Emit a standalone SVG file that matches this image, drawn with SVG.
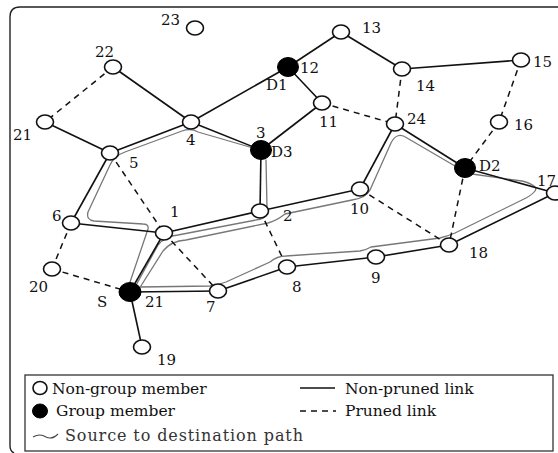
<svg xmlns="http://www.w3.org/2000/svg" width="558" height="453" viewBox="0 0 558 453">
<style>
.e{stroke:#111;stroke-width:1.6;fill:none}
.d{stroke:#111;stroke-width:1.5;fill:none;stroke-dasharray:6,5}
.g{stroke:#777;stroke-width:1.3;fill:none;stroke-linejoin:round;stroke-linecap:round}
.n{fill:#fff;stroke:#111;stroke-width:1.6}
.m{fill:#000;stroke:#000;stroke-width:1}
text{font-family:"DejaVu Serif","Liberation Serif",serif;font-size:15px;fill:#111}
.lg{font-size:15.5px}
.sm{font-size:16px;fill:#333}
</style>
<rect width="558" height="453" fill="#fff"/>
<path d="M14,453 Q10,451 10,446 L10,17 Q10,7 20,7 L558,7" fill="none" stroke="#222" stroke-width="1.4"/>
<g id="paths">
<path class="g" d="M128,288 L148,229 Q149,224 143,224 L94,221 Q86,220 88,212 L110,165 Q114,156 125,152 L182,131 Q191,128 198,132 L253,148"/>
<path class="g" d="M134,289 L158,245 Q165,236 178,235 L261,219 Q268,217 267,208 L266,160"/>
<path class="g" d="M139,289 L163,251 Q171,241 186,240 L268,223 Q276,221 285,214 L352,200 Q366,198 370,190 L391,143 Q397,131 407,138 L455,166"/>
<path class="g" d="M140,287 L210,286 Q218,285 226,282 L270,262 Q277,256 286,256 L360,251 Q366,250 371,247 L440,238 Q448,236 455,233 L526,198 Q540,190 534,186 Q530,183 522,181 L472,174"/>
</g>
<g id="connectors">
<line class="e" x1="113" y1="67" x2="191" y2="122"/>
<line class="e" x1="45" y1="122" x2="110" y2="153"/>
<line class="e" x1="110" y1="153" x2="191" y2="122"/>
<line class="e" x1="191" y1="122" x2="261" y2="150"/>
<line class="e" x1="191" y1="122" x2="288" y2="67"/>
<line class="e" x1="288" y1="67" x2="341" y2="32"/>
<line class="e" x1="341" y1="32" x2="402" y2="69"/>
<line class="e" x1="402" y1="69" x2="521" y2="60"/>
<line class="e" x1="288" y1="67" x2="322" y2="103"/>
<line class="e" x1="322" y1="103" x2="261" y2="150"/>
<line class="e" x1="261" y1="150" x2="260" y2="211"/>
<line class="e" x1="260" y1="211" x2="360" y2="189"/>
<line class="e" x1="360" y1="189" x2="395" y2="124"/>
<line class="e" x1="395" y1="124" x2="465" y2="168"/>
<line class="e" x1="465" y1="168" x2="555" y2="193"/>
<line class="e" x1="555" y1="193" x2="449" y2="245"/>
<line class="e" x1="449" y1="245" x2="376" y2="257"/>
<line class="e" x1="376" y1="257" x2="287" y2="267"/>
<line class="e" x1="287" y1="267" x2="218" y2="291"/>
<line class="e" x1="218" y1="291" x2="130" y2="292"/>
<line class="e" x1="130" y1="292" x2="164" y2="233"/>
<line class="e" x1="130" y1="292" x2="142" y2="347"/>
<line class="e" x1="164" y1="233" x2="260" y2="211"/>
<line class="e" x1="71" y1="223" x2="164" y2="233"/>
<line class="e" x1="110" y1="153" x2="71" y2="223"/>
<line class="d" x1="113" y1="67" x2="45" y2="122"/>
<line class="d" x1="110" y1="153" x2="164" y2="233"/>
<line class="d" x1="164" y1="233" x2="218" y2="291"/>
<line class="d" x1="322" y1="103" x2="395" y2="124"/>
<line class="d" x1="402" y1="69" x2="395" y2="124"/>
<line class="d" x1="521" y1="60" x2="499" y2="122"/>
<line class="d" x1="499" y1="122" x2="465" y2="168"/>
<line class="d" x1="465" y1="168" x2="449" y2="245"/>
<line class="d" x1="360" y1="189" x2="449" y2="245"/>
<line class="d" x1="260" y1="211" x2="287" y2="267"/>
<line class="d" x1="71" y1="223" x2="52" y2="269"/>
<line class="d" x1="52" y1="269" x2="130" y2="292"/>
</g>
<g id="n1"><ellipse class="n" cx="164" cy="233" rx="8.5" ry="7"/><text x="170" y="217">1</text></g>
<g id="n2"><ellipse class="n" cx="260" cy="211" rx="8.5" ry="7"/><text x="283" y="221">2</text></g>
<g id="n3"><ellipse class="m" cx="261" cy="150" rx="10.5" ry="9.5"/><text x="256" y="138">3</text><text x="271" y="157">D3</text></g>
<g id="n4"><ellipse class="n" cx="191" cy="122" rx="8.5" ry="7"/><text x="186" y="145">4</text></g>
<g id="n5"><ellipse class="n" cx="110" cy="153" rx="8.5" ry="7"/><text x="129" y="168">5</text></g>
<g id="n6"><ellipse class="n" cx="71" cy="223" rx="8.5" ry="7"/><text x="52" y="221">6</text></g>
<g id="n7"><ellipse class="n" cx="218" cy="291" rx="8.5" ry="7"/><text x="206" y="312">7</text></g>
<g id="n8"><ellipse class="n" cx="287" cy="267" rx="8.5" ry="7"/><text x="292" y="292">8</text></g>
<g id="n9"><ellipse class="n" cx="376" cy="257" rx="8.5" ry="7"/><text x="371" y="283">9</text></g>
<g id="n10"><ellipse class="n" cx="360" cy="189" rx="8.5" ry="7"/><text x="350" y="214">10</text></g>
<g id="n11"><ellipse class="n" cx="322" cy="103" rx="8.5" ry="7"/><text x="319" y="127">11</text></g>
<g id="n12"><ellipse class="m" cx="288" cy="67" rx="10.5" ry="9.5"/><text x="300" y="73">12</text><text x="266" y="90">D1</text></g>
<g id="n13"><ellipse class="n" cx="341" cy="32" rx="8.5" ry="7"/><text x="362" y="33">13</text></g>
<g id="n14"><ellipse class="n" cx="402" cy="69" rx="8.5" ry="7"/><text x="416" y="91">14</text></g>
<g id="n15"><ellipse class="n" cx="521" cy="60" rx="8.5" ry="7"/><text x="533" y="67">15</text></g>
<g id="n16"><ellipse class="n" cx="499" cy="122" rx="8.5" ry="7"/><text x="514" y="130">16</text></g>
<g id="n17"><ellipse class="n" cx="555" cy="193" rx="8.5" ry="7"/><text x="537" y="186">17</text></g>
<g id="n18"><ellipse class="n" cx="449" cy="245" rx="8.5" ry="7"/><text x="469" y="258">18</text></g>
<g id="n19"><ellipse class="n" cx="142" cy="347" rx="8.5" ry="7"/><text x="157" y="365">19</text></g>
<g id="n20"><ellipse class="n" cx="52" cy="269" rx="8.5" ry="7"/><text x="29" y="292">20</text></g>
<g id="n21"><ellipse class="n" cx="45" cy="122" rx="8.5" ry="7"/><text x="13" y="140">21</text></g>
<g id="n22"><ellipse class="n" cx="113" cy="67" rx="8.5" ry="7"/><text x="95" y="57">22</text></g>
<g id="n23"><ellipse class="n" cx="195" cy="28" rx="8.5" ry="7"/><text x="161" y="25">23</text></g>
<g id="n24"><ellipse class="n" cx="395" cy="124" rx="8.5" ry="7"/><text x="407" y="124">24</text></g>
<g id="nS"><ellipse class="m" cx="130" cy="292" rx="11" ry="9.5"/><text x="97" y="307">S</text><text x="145" y="307">21</text></g>
<g id="nD2"><ellipse class="m" cx="465" cy="168" rx="10.5" ry="9.5"/><text x="479" y="171">D2</text></g>
<g id="legend">
<rect x="25" y="375" width="528" height="76" fill="none" stroke="#333" stroke-width="1.3"/>
<ellipse class="n" cx="40" cy="388" rx="7" ry="6.5"/>
<text class="lg" x="52" y="394">Non-group member</text>
<ellipse class="m" cx="40" cy="411" rx="7.5" ry="7"/>
<text class="lg" x="56" y="416">Group member</text>
<line class="e" x1="300" y1="388" x2="335" y2="388" stroke-width="1.2"/>
<text class="lg" x="345" y="394">Non-pruned link</text>
<line class="d" x1="300" y1="411" x2="336" y2="411" stroke-dasharray="5,5" stroke-width="1.3"/>
<text class="lg" x="345" y="416">Pruned link</text>
<path d="M33,437 Q40,433 46,437 Q52,440 58,434" fill="none" stroke="#444" stroke-width="1.1"/>
<text class="sm" x="65" y="441" textLength="238" lengthAdjust="spacing">Source to destination path</text>
</g>
</svg>
